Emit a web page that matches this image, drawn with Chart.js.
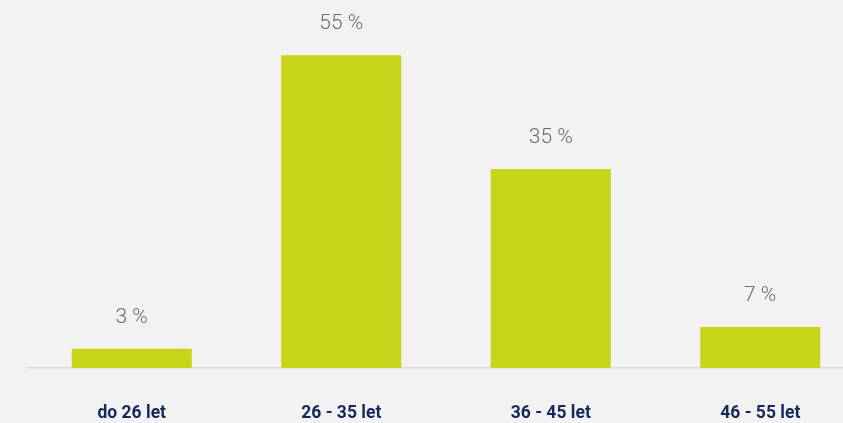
<!DOCTYPE html>
<html>
<head>
<meta charset="utf-8">
<script src="https://cdn.jsdelivr.net/npm/chart.js@4"></script>
<style>
    html, body { margin: 0; padding: 0; background: #f2f2f2; overflow: hidden; }
    #chart { display: block; }
</style>
</head>
<body>
<canvas id="chart" width="870" height="423"></canvas>
<script>
// data
const categories = ['do 26 let', '26 - 35 let', '36 - 45 let', '46 - 55 let'];
const shares = [3.4, 55, 35, 7.2];
const shareLabels = ['3 %', '55 %', '35 %', '7 %'];

// draws "xx %" above each bar
const valueLabels = {
    id: 'valueLabels',
    afterDatasetsDraw(chart) {
        const ctx = chart.ctx;
        const meta = chart.getDatasetMeta(0);
        ctx.save();
        ctx.font = '300 21px Roboto';
        ctx.fillStyle = '#6c6c6c';
        ctx.textAlign = 'center';
        ctx.textBaseline = 'middle';
        meta.data.forEach((bar, i) => {
            ctx.fillText(shareLabels[i], bar.x, bar.y - 31);
        });
        ctx.restore();
    }
};

new Chart(document.getElementById('chart'), {
    type: 'bar',
    data: {
        labels: categories,
        datasets: [{
            data: shares,
            backgroundColor: '#c8d419',
            categoryPercentage: 1,
            barPercentage: 0.573
        }]
    },
    options: {
        responsive: false,
        animation: false,
        layout: { padding: { left: 27, right: 5, top: 0, bottom: 0 } },
        plugins: {
            legend: { display: false },
            tooltip: { enabled: false }
        },
        scales: {
            x: {
                grid: { display: false, drawTicks: false },
                border: { display: true, color: '#dadada', width: 1.5 },
                ticks: {
                    padding: 35,
                    color: '#14285a',
                    font: { family: 'Roboto', weight: 'bold', size: 17.5 }
                },
                afterFit(scale) { scale.height = 55; }
            },
            y: {
                display: false,
                min: 0,
                max: 64.7
            }
        }
    },
    plugins: [valueLabels]
});
</script>
</body>
</html>
